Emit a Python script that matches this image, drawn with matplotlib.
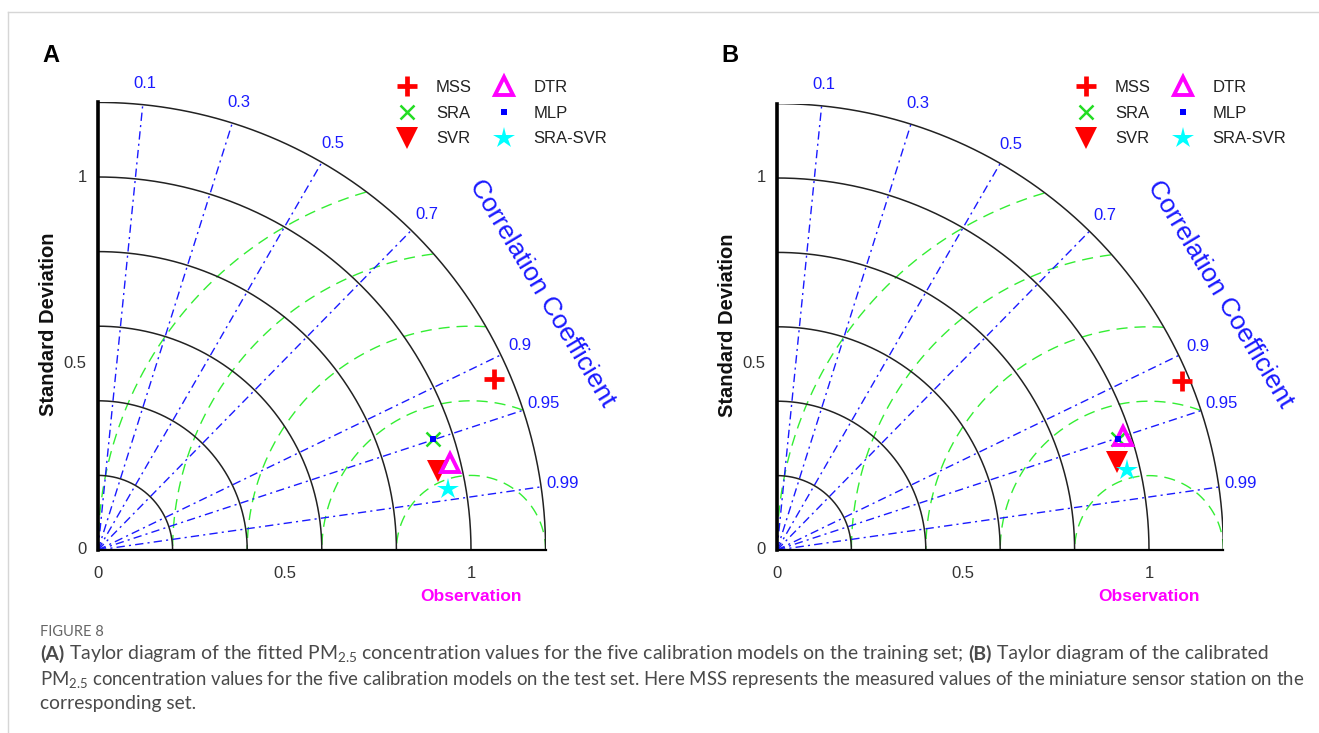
import numpy as np
import matplotlib
matplotlib.use("Agg")
import matplotlib.pyplot as plt
from matplotlib.lines import Line2D

plt.rcParams['font.family'] = ['Liberation Sans', 'DejaVu Sans']
plt.rcParams['mathtext.default'] = 'regular'

# models and their (normalised) std / correlation
models = ["MSS", "SRA", "SVR", "DTR", "MLP", "SRA-SVR"]
std_a = [1.157, 0.947, 0.937, 0.972, 0.947, 0.952]
corr_a = [0.918, 0.949, 0.974, 0.971, 0.949, 0.985]
std_b = [1.179, 0.963, 0.944, 0.980, 0.963, 0.964]
corr_b = [0.9225, 0.951, 0.968, 0.950, 0.951, 0.975]

corr_ticks = [0.1, 0.3, 0.5, 0.7, 0.9, 0.95, 0.99]
std_rings = [0.2, 0.4, 0.6, 0.8, 1.0, 1.2]
rms_rings = [0.2, 0.4, 0.6, 0.8, 1.0]
std_ticks = [0, 0.5, 1]
std_tick_labels = ["0", "0.5", "1"]

marker_style = [
    dict(marker="+", color="red", markersize=15, markeredgewidth=3.4),
    dict(marker="x", color="#22dd22", markersize=10.5, markeredgewidth=1.8),
    dict(marker="v", color="red", markersize=16, markeredgewidth=0),
    dict(marker="^", markerfacecolor="none", markeredgecolor="#ff00ff", markersize=13, markeredgewidth=2.8),
    dict(marker="s", color="blue", markersize=5, markeredgewidth=0),
    dict(marker="*", color="cyan", markersize=16, markeredgewidth=0),
]

W, H = 1319, 733
fig = plt.figure(figsize=(W / 100, H / 100), dpi=100)

blue = "#1a1aff"
rmax = 1.2


def taylor(left_px, scale_px, stds, corrs, letter):
    size = rmax * scale_px
    ax = fig.add_axes([left_px / W, (H - 550) / H, size / W, size / H])
    ax.set_xlim(0, rmax)
    ax.set_ylim(0, rmax)
    ax.set_aspect("equal")
    ax.axis("off")
    t = np.linspace(0, np.pi / 2, 300)
    # std rings
    for r in std_rings:
        ax.plot(r * np.cos(t), r * np.sin(t), color="#222222", lw=1.1, zorder=2)
    # axes
    ax.plot([0, 0], [0, rmax], color="black", lw=2.6, zorder=3, clip_on=False)
    ax.plot([0, rmax], [0, 0], color="black", lw=1.6, zorder=3, clip_on=False)
    # rms rings around observation
    tt = np.linspace(0, np.pi, 600)
    for r in rms_rings:
        x = 1 + r * np.cos(tt)
        y = r * np.sin(tt)
        ok = (x ** 2 + y ** 2 <= rmax ** 2) & (x >= 0)
        x = np.where(ok, x, np.nan)
        y = np.where(ok, y, np.nan)
        ax.plot(x, y, color="#33ee33", lw=1.0, ls=(0, (8, 5)), zorder=1)
    # correlation lines and labels
    for c in corr_ticks:
        th = np.arccos(c)
        ax.plot([0, rmax * np.cos(th)], [0, rmax * np.sin(th)], color=blue,
                lw=1.0, ls=(0, (6, 3, 1.5, 3)), zorder=1)
        ax.text(1.258 * np.cos(th), 1.258 * np.sin(th), str(c), color=blue,
                fontsize=12, ha="center", va="center", clip_on=False)
    ax.text(1.375 * np.cos(np.radians(30)), 1.375 * np.sin(np.radians(30)),
            "Correlation Coefficient", color=blue, fontsize=19, rotation=-59,
            ha="center", va="center", rotation_mode="anchor", clip_on=False)
    # ticks
    for v, lab in zip(std_ticks, std_tick_labels):
        ax.text(-0.03, v, lab, ha="right", va="center", fontsize=12, color="#333333")
        ax.text(v, -0.063, lab, ha="center", va="center", fontsize=12, color="#333333")
    ax.text(1.0, -0.125, "Observation", ha="center", va="center", fontsize=12.5,
            fontweight="bold", color="#ff00ff")
    ax.text(-0.133, 0.605, "Standard Deviation", ha="center", va="center",
            rotation=90, fontsize=14.5, fontweight="bold", color="#111111")
    # points
    handles = []
    for name, s, c, st in zip(models, stds, corrs, marker_style):
        th = np.arccos(c)
        h, = ax.plot([s * np.cos(th)], [s * np.sin(th)], ls="none", label=name,
                     zorder=5, clip_on=False, **st)
        handles.append(h)
    leg = ax.legend(handles=handles, ncol=2, frameon=False, fontsize=12,
                    loc="upper left", numpoints=1,
                    bbox_to_anchor=((left_px + 297) / W, (H - 80) / H),
                    bbox_transform=fig.transFigure, borderpad=0, borderaxespad=0,
                    handlelength=1.4, handletextpad=1.05, columnspacing=1.25,
                    labelspacing=0.64)
    for txt in leg.get_texts():
        txt.set_color("#222222")
    fig.text((left_px - 56) / W, (H - 55) / H, letter, fontsize=17,
             fontweight="bold", ha="left", va="center")
    return ax


taylor(98, 373, std_a, corr_a, "A")
taylor(777, 372, std_b, corr_b, "B")

# page frame lines
fig.add_artist(Line2D([8 / W, 8 / W], [0, (H - 12) / H], color="#d6d6d6", lw=1))
fig.add_artist(Line2D([8 / W, 1], [(H - 12) / H, (H - 12) / H], color="#d6d6d6", lw=1))

# caption
cap_color = "#4a4a4a"
cap_font = ["Lato", "DejaVu Sans"]
fig.text(40 / W, (H - 632) / H, "FIGURE 8", fontsize=10.5, color="#666666",
         family=cap_font, va="center")

renderer = fig.canvas.get_renderer()


def space_width(size):
    probe = fig.text(0, 0, "a a", fontsize=size, family=cap_font)
    w2 = probe.get_window_extent(renderer=renderer).width
    probe.set_text("aa")
    w = w2 - probe.get_window_extent(renderer=renderer).width
    probe.remove()
    return w


def draw_pieces(x_px, y_px, pieces, size):
    sw = space_width(size)
    x = x_px
    made = []
    for txt, bold in pieces:
        lead = len(txt) - len(txt.lstrip(" "))
        trail = len(txt) - len(txt.rstrip(" "))
        x += lead * sw
        t = fig.text(x / W, (H - y_px) / H, txt.strip(" "), fontsize=size,
                     color=cap_color, family=cap_font, va="center",
                     fontweight="bold" if bold else "normal")
        made.append(t)
        x += t.get_window_extent(renderer=renderer).width + trail * sw
    return made, x - x_px


def rich_line(x_px, y_px, pieces, target_w, size=13.9):
    made, w = draw_pieces(x_px, y_px, pieces, size)
    for t in made:
        t.remove()
    draw_pieces(x_px, y_px, pieces, size * target_w / w)


rich_line(40, 654, [("(A)", True),
                    (" Taylor diagram of the fitted PM$_{2.5}$ concentration values for the five calibration models on the training set; ", False),
                    ("(B)", True),
                    (" Taylor diagram of the calibrated", False)], 1222)
rich_line(40, 679, [("PM$_{2.5}$ concentration values for the five calibration models on the test set. Here MSS represents the measured values of the miniature sensor station on the", False)], 1258)
rich_line(40, 704, [("corresponding set.", False)], 156)

fig.savefig("out.png", dpi=100)
